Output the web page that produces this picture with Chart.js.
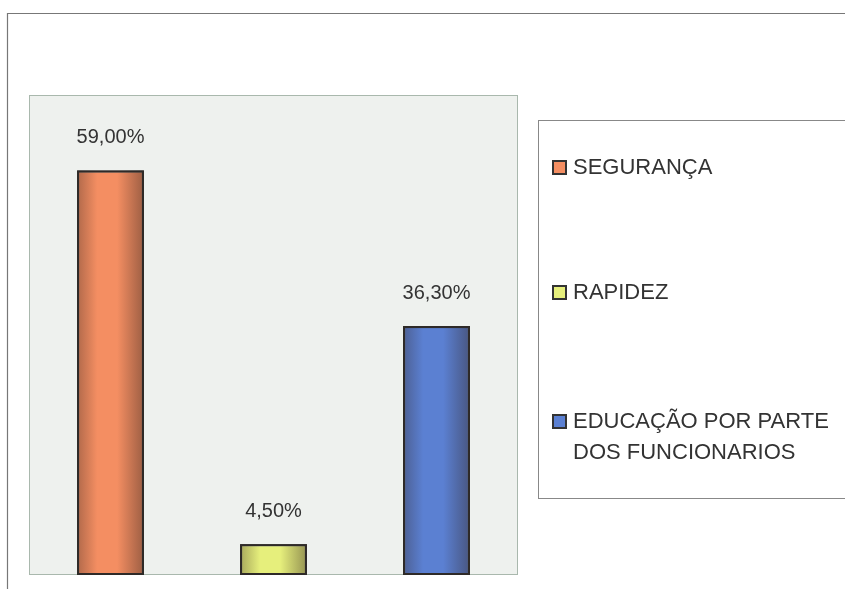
<!DOCTYPE html>
<html>
<head>
<meta charset="utf-8">
<script src="https://cdn.jsdelivr.net/npm/chart.js@4/dist/chart.umd.min.js"></script>
<style>
  html, body { margin: 0; padding: 0; background: #ffffff; }
  #wrap { position: relative; width: 845px; height: 589px; }
</style>
</head>
<body>
<div id="wrap"><canvas id="c" width="845" height="589"></canvas></div>
<script>
// ---- data ----
const categories = ["SEGURANÇA", "RAPIDEZ", ["EDUCAÇÃO POR PARTE", "DOS FUNCIONARIOS"]];
const values = [59.00, 4.50, 36.30];
const barColors = ["#f48e62", "#e6ef7c", "#5b80d2"];
const yMax = 70;

function fmt(v) { return v.toFixed(2).replace('.', ',') + '%'; }

const framePlugin = {
  id: 'frame',
  beforeDraw(chart) {
    const ctx = chart.ctx, a = chart.chartArea;
    ctx.save();
    ctx.strokeStyle = '#777';
    ctx.lineWidth = 1.2;
    ctx.beginPath();
    ctx.moveTo(7.5, 589); ctx.lineTo(7.5, 13.5); ctx.lineTo(845, 13.5);
    ctx.stroke();
    ctx.fillStyle = '#eef1ee';
    ctx.fillRect(a.left, a.top, a.right - a.left, a.bottom - a.top);
    ctx.strokeStyle = '#a9b8ad';
    ctx.lineWidth = 1;
    ctx.strokeRect(a.left + 0.5, a.top + 0.5, a.right - a.left - 1, a.bottom - a.top - 1);
    ctx.restore();
  },
  afterDatasetsDraw(chart) {
    const ctx = chart.ctx;
    const meta = chart.getDatasetMeta(0);
    ctx.save();
    // shading on the bars (darker edges, as in the scanned original)
    meta.data.forEach((bar) => {
      const l = bar.x - bar.width / 2, r = bar.x + bar.width / 2;
      const g = ctx.createLinearGradient(l, 0, r, 0);
      g.addColorStop(0, 'rgba(50,35,30,0.35)');
      g.addColorStop(0.3, 'rgba(50,35,30,0.0)');
      g.addColorStop(0.6, 'rgba(50,35,30,0.0)');
      g.addColorStop(1, 'rgba(50,35,30,0.45)');
      ctx.fillStyle = g;
      ctx.fillRect(l, bar.y, bar.width, bar.base - bar.y);
      ctx.strokeStyle = '#2e2a28';
      ctx.lineWidth = 2;
      ctx.strokeRect(l + 1, bar.y + 1, bar.width - 2, bar.base - bar.y - 2);
    });
    ctx.fillStyle = '#333';
    ctx.font = '20px "Liberation Sans", Arial, sans-serif';
    ctx.textAlign = 'center';
    ctx.textBaseline = 'middle';
    meta.data.forEach((bar, i) => {
      ctx.fillText(fmt(values[i]), bar.x, bar.y - 33);
    });
    ctx.restore();
  },
  afterDraw(chart) {
    const ctx = chart.ctx;
    ctx.save();
    ctx.strokeStyle = '#888';
    ctx.lineWidth = 1;
    ctx.strokeRect(538.5, 120.5, 320, 378);
    const ys = [168, 293, 422];
    ctx.font = '22px "Liberation Sans", Arial, sans-serif';
    ctx.textAlign = 'left';
    ctx.textBaseline = 'middle';
    categories.forEach((c, i) => {
      ctx.fillStyle = barColors[i];
      ctx.fillRect(553, ys[i] - 7, 13, 13);
      ctx.strokeStyle = '#333';
      ctx.lineWidth = 2;
      ctx.strokeRect(553, ys[i] - 7, 13, 13);
      ctx.fillStyle = '#333';
      const lines = Array.isArray(c) ? c : [c];
      lines.forEach((t, j) => ctx.fillText(t, 573, ys[i] + j * 31));
    });
    ctx.restore();
  }
};

new Chart(document.getElementById('c'), {
  type: 'bar',
  data: {
    labels: categories,
    datasets: [{
      data: values,
      backgroundColor: barColors,
      borderColor: '#2e2a28',
      borderWidth: 2,
      borderSkipped: false,
      barPercentage: 0.41,
      categoryPercentage: 1.0
    }]
  },
  options: {
    responsive: false,
    animation: false,
    devicePixelRatio: 1,
    layout: { padding: { left: 29, right: 327, top: 95, bottom: 14 } },
    plugins: { legend: { display: false }, tooltip: { enabled: false } },
    scales: {
      x: { display: false },
      y: { display: false, min: 0, max: yMax }
    }
  },
  plugins: [framePlugin]
});
</script>
</body>
</html>
